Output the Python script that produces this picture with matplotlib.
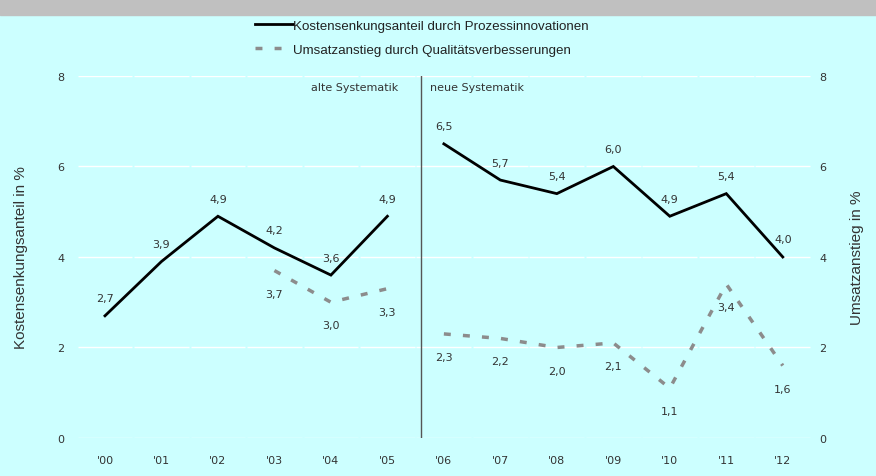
import matplotlib
matplotlib.use("Agg")
import matplotlib.pyplot as plt
import numpy as np

years = ["'00", "'01", "'02", "'03", "'04", "'05", "'06", "'07", "'08", "'09", "'10", "'11", "'12"]
kosten = [2.7, 3.9, 4.9, 4.2, 3.6, 4.9, 6.5, 5.7, 5.4, 6.0, 4.9, 5.4, 4.0]
umsatz = [None, None, None, 3.7, 3.0, 3.3, 2.3, 2.2, 2.0, 2.1, 1.1, 3.4, 1.6]
yticks = [0, 2, 4, 6, 8]
break_after = 5  # last index of "alte Systematik"

bg = "#ccffff"
txt = "#333333"

fig = plt.figure(figsize=(8.76, 4.77), dpi=100, facecolor=bg)
fig.patches.append(plt.Rectangle((0, 1 - 16 / 477), 1, 16 / 477, transform=fig.transFigure,
                                 color="#c0c0c0", zorder=0))

ax = fig.add_axes([0.0876, 0.0797, 0.8382, 0.7589])
ax.set_facecolor(bg)
ax2 = ax.twinx()

x = np.arange(len(years))
k = np.array(kosten, dtype=float)
u = np.array([np.nan if v is None else v for v in umsatz], dtype=float)

k_plot = np.insert(k, break_after + 1, np.nan)
u_plot = np.insert(u, break_after + 1, np.nan)
x_plot = np.insert(x.astype(float), break_after + 1, np.nan)

l1, = ax.plot(x_plot, k_plot, color="black", lw=2.0, solid_joinstyle="miter",
              label="Kostensenkungsanteil durch Prozessinnovationen", zorder=3)
l2, = ax2.plot(x_plot, u_plot, color="#8c8c8c", lw=2.5, dashes=(2, 3.5),
               label="Umsatzanstieg durch Qualitätsverbesserungen", zorder=3)

for lim_ax in (ax, ax2):
    lim_ax.set_ylim(0, 8)
    lim_ax.set_yticks(yticks)
    lim_ax.set_xlim(-0.5, len(years) - 0.5)
    for s in lim_ax.spines.values():
        s.set_visible(False)
    lim_ax.tick_params(length=0, labelsize=8, colors=txt)

ax.set_xticks(x)
ax.set_xticklabels(years)
ax.tick_params(axis="x", pad=12)
ax.tick_params(axis="y", pad=9)
ax2.tick_params(axis="y", pad=6)

# white gridlines broken at category boundaries
for gy in yticks:
    ax.hlines([gy] * len(x), x - 0.485, x + 0.485, colors="white", lw=1.0, zorder=1)

# vertical separator
sep = break_after + 0.6
ax.plot([sep, sep], [0, 8], color="#555555", lw=1.0, zorder=2)
ax.text(sep - 0.4, 7.75, "alte Systematik", ha="right", va="center", fontsize=8, color=txt)
ax.text(sep + 0.16, 7.75, "neue Systematik", ha="left", va="center", fontsize=8, color=txt)

def fmt(v):
    return f"{v:.1f}".replace(".", ",")

for i, v in enumerate(k):
    ax.annotate(fmt(v), (i, v), xytext=(0, 9), textcoords="offset points",
                ha="center", va="bottom", fontsize=8, color=txt)
for i, v in enumerate(u):
    if np.isnan(v):
        continue
    ax2.annotate(fmt(v), (i, v), xytext=(0, -13), textcoords="offset points",
                 ha="center", va="top", fontsize=8, color=txt)

ax.set_ylabel("Kostensenkungsanteil in %", fontsize=11, color=txt, family="Liberation Sans", labelpad=21)
ax2.set_ylabel("Umsatzanstieg in %", fontsize=11, color=txt, family="Liberation Sans", labelpad=17)

leg = fig.legend(handles=[l1, l2], loc="upper center", bbox_to_anchor=(0.482, 0.982),
                 frameon=False, handlelength=2.8, handletextpad=0.05, labelspacing=0.85,
                 prop={"family": ["Liberation Sans Narrow", "Liberation Sans"], "size": 9.6})
for t in leg.get_texts():
    t.set_color("#222222")

fig.savefig("out.png", dpi=100, facecolor=bg)
